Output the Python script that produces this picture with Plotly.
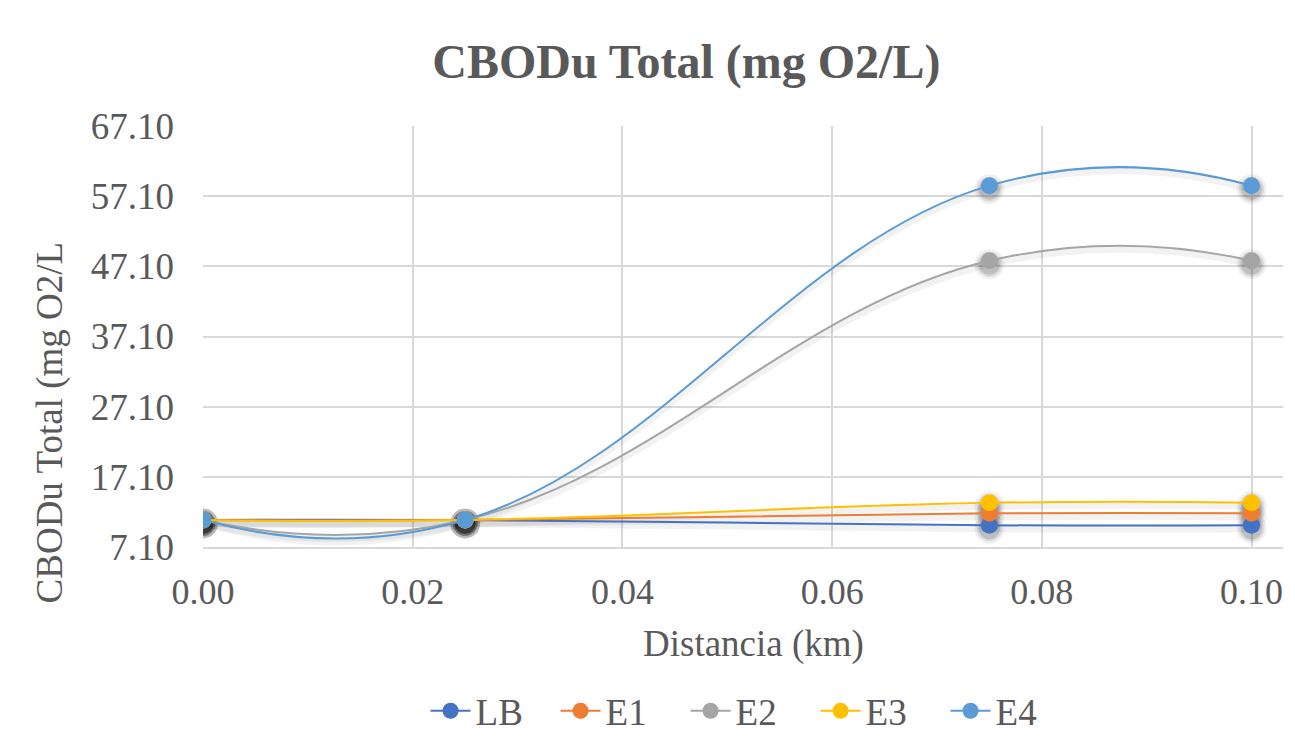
import plotly.graph_objects as go

# Distance along the reach (km)
distancia = [0.0, 0.025, 0.075, 0.1]

# CBODu total (mg O2/L) per scenario
lb = [10.95, 10.95, 10.2, 10.2]
e1 = [10.95, 10.95, 11.9, 11.9]
e2 = [10.95, 10.95, 47.9, 47.9]
e3 = [10.95, 10.95, 13.4, 13.4]
e4 = [10.95, 10.95, 58.6, 58.6]

series = [
    ("LB", lb, "#4472C4"),
    ("E1", e1, "#ED7D31"),
    ("E2", e2, "#A5A5A5"),
    ("E3", e3, "#FFC000"),
    ("E4", e4, "#5B9BD5"),
]

y_ticks = [7.10, 17.10, 27.10, 37.10, 47.10, 57.10, 67.10]
x_ticks = [0.00, 0.02, 0.04, 0.06, 0.08, 0.10]

FONT = "Liberation Serif"
TXT = "#595959"
GRID = "#D9D9D9"
Y_RANGE = [7.1, 67.1]
SHADOW_SHIFT = 0.5  # shadow offset in data units (a few pixels downward)

fig = go.Figure()

# soft drop shadows on the hidden base axis, drawn beneath the series
for name, vals, color in series:
    fig.add_trace(go.Scatter(
        x=distancia, y=vals, mode="lines",
        line=dict(color="rgba(0,0,0,0.05)", width=7, shape="spline", smoothing=1.3),
        yaxis="y", showlegend=False, hoverinfo="skip",
    ))
    for size, alpha in [(30, 0.06), (25, 0.09), (21, 0.12)]:
        fig.add_trace(go.Scatter(
            x=distancia, y=vals, mode="markers",
            marker=dict(color=f"rgba(0,0,0,{alpha})", size=size, line=dict(width=0)),
            yaxis="y", showlegend=False, hoverinfo="skip",
        ))

for name, vals, color in series:
    fig.add_trace(go.Scatter(
        x=distancia, y=vals, name=name, mode="lines+markers",
        line=dict(color=color, width=2, shape="spline", smoothing=1.3),
        marker=dict(color=color, size=17, line=dict(width=0)),
        yaxis="y2",
    ))

fig.update_layout(
    width=1295, height=741,
    paper_bgcolor="white", plot_bgcolor="white",
    margin=dict(l=203, r=12, t=126, b=194, autoexpand=False),
    font=dict(family=FONT, color=TXT, size=36),
    title=dict(text="<b>CBODu Total (mg O2/L)</b>", x=0.53, xanchor="center",
               y=0.918, yanchor="middle", font=dict(family=FONT, size=48, color=TXT)),
    xaxis=dict(
        range=[0, 0.103], tickvals=x_ticks, ticktext=[f"{v:.2f}" for v in x_ticks],
        showgrid=True, gridcolor=GRID, gridwidth=1.5, zeroline=False,
        showline=True, linecolor=GRID, linewidth=1.5,
        ticks="", ticklabelstandoff=12, automargin=False,
        tickfont=dict(size=36),
    ),
    yaxis=dict(
        range=[Y_RANGE[0] + SHADOW_SHIFT, Y_RANGE[1] + SHADOW_SHIFT],
        visible=False, showgrid=False, zeroline=False,
    ),
    yaxis2=dict(
        range=Y_RANGE, overlaying="y", side="left",
        tickvals=y_ticks, ticktext=[f"{v:.2f}" for v in y_ticks],
        showgrid=True, gridcolor=GRID, gridwidth=1.5, zeroline=False,
        showline=False, ticks="", ticklabelstandoff=28, automargin=False,
        tickfont=dict(size=37),
    ),
    legend=dict(
        orientation="h", x=0.507, xanchor="center", y=-0.39, yanchor="middle",
        font=dict(size=37), itemwidth=40, entrywidth=75, bgcolor="rgba(0,0,0,0)",
    ),
    annotations=[
        dict(text="Distancia (km)", xref="paper", yref="paper",
             x=0.51, y=-0.23, xanchor="center", yanchor="middle",
             showarrow=False, font=dict(size=37)),
        dict(text="CBODu Total (mg O2/L", xref="paper", yref="paper",
             x=-0.142, y=0.295, xanchor="center", yanchor="middle",
             textangle=-90, showarrow=False, font=dict(size=37)),
    ],
)

fig.write_html("out.html")
